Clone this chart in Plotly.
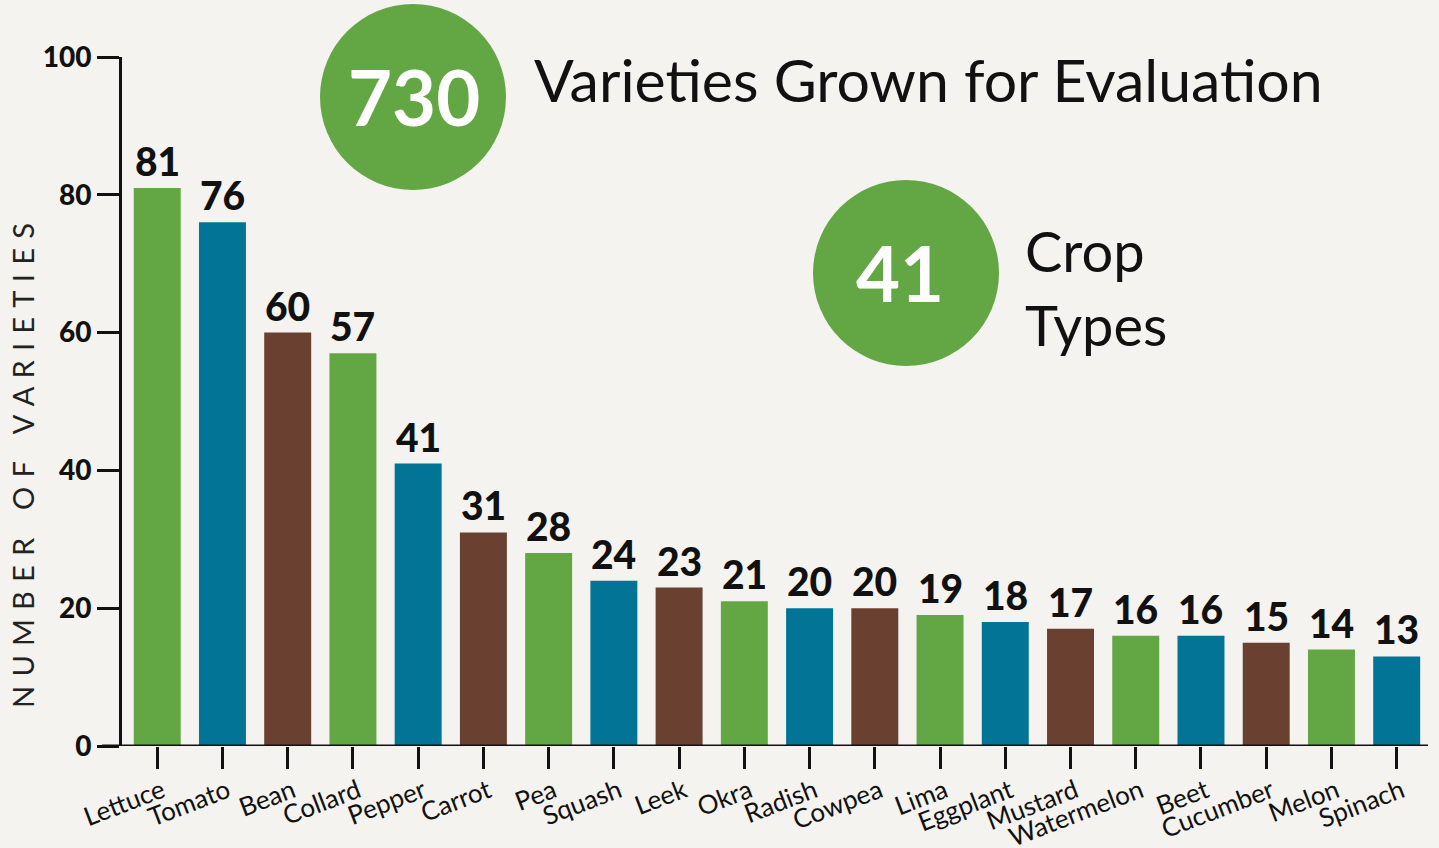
import plotly.graph_objects as go

crops = ["Lettuce", "Tomato", "Bean", "Collard", "Pepper", "Carrot", "Pea", "Squash",
         "Leek", "Okra", "Radish", "Cowpea", "Lima", "Eggplant", "Mustard",
         "Watermelon", "Beet", "Cucumber", "Melon", "Spinach"]
varieties = [81, 76, 60, 57, 41, 31, 28, 24, 23, 21, 20, 20, 19, 18, 17, 16, 16, 15, 14, 13]
palette = ["#63a745", "#027597", "#6a4131"]
y_ticks = [0, 20, 40, 60, 80, 100]
total_varieties = "730"
crop_types = "41"

BG = "#f4f3ef"
FONT = "Lato"
W, H = 1439, 848
L, R, T, B = 122, 11, 57, 102
pw, ph = W - L - R, H - T - B

def px_x(x):
    return (x - L) / pw

def px_y(y):
    return (H - B - y) / ph

colors = [palette[i % 3] for i in range(len(crops))]

fig = go.Figure()
fig.add_trace(go.Bar(x=crops, y=varieties, marker=dict(color=colors, line=dict(width=0)),
                     hoverinfo="x+y"))

annotations = []
for c, v in zip(crops, varieties):
    annotations.append(dict(x=c, y=v, xref="x", yref="y", text=str(v), showarrow=False,
                            yanchor="bottom", yshift=2,
                            font=dict(family=FONT, size=39, color="#111111", weight=900)))

sp = "\u00a0\u200a"
title_txt = (sp * 3).join(sp.join(list(w)) for w in ["NUMBER", "OF", "VARIETIES"])
annotations.append(dict(x=px_x(22), y=px_y(466), xref="paper", yref="paper", text=title_txt,
                        textangle=-90, showarrow=False, xanchor="center", yanchor="middle",
                        font=dict(family=FONT, size=29, color="#222222")))

annotations += [
    dict(x=px_x(414), y=px_y(97), xref="paper", yref="paper", text=total_varieties, showarrow=False,
         xanchor="center", yanchor="middle", font=dict(family=FONT, size=76, color="white", weight=700)),
    dict(x=px_x(532), y=px_y(79), xref="paper", yref="paper", text="Varieties Grown for Evaluation",
         showarrow=False, xanchor="left", yanchor="middle",
         font=dict(family=FONT, size=59, color="#111111")),
    dict(x=px_x(900), y=px_y(272), xref="paper", yref="paper", text=crop_types, showarrow=False,
         xanchor="center", yanchor="middle", font=dict(family=FONT, size=76, color="white", weight=700)),
    dict(x=px_x(1023), y=px_y(250), xref="paper", yref="paper", text="Crop", showarrow=False,
         xanchor="left", yanchor="middle", font=dict(family=FONT, size=56, color="#111111")),
    dict(x=px_x(1023), y=px_y(324), xref="paper", yref="paper", text="Types", showarrow=False,
         xanchor="left", yanchor="middle", font=dict(family=FONT, size=56, color="#111111")),
]

shapes = [
    dict(type="circle", xref="paper", yref="paper", xsizemode="pixel", ysizemode="pixel",
         xanchor=px_x(413), yanchor=px_y(97), x0=-93, x1=93, y0=-93, y1=93,
         fillcolor="#63a745", line=dict(width=0), layer="below"),
    dict(type="circle", xref="paper", yref="paper", xsizemode="pixel", ysizemode="pixel",
         xanchor=px_x(906), yanchor=px_y(273), x0=-93, x1=93, y0=-93, y1=93,
         fillcolor="#63a745", line=dict(width=0), layer="below"),
    dict(type="line", xref="paper", yref="y", x0=px_x(102), x1=1, y0=0, y1=0,
         line=dict(color="#111111", width=3)),
]

fig.update_layout(
    width=W, height=H, margin=dict(l=L, r=R, t=T, b=B, pad=0, autoexpand=False),
    paper_bgcolor=BG, plot_bgcolor=BG, showlegend=False, bargap=0.28,
    annotations=annotations, shapes=shapes,
    xaxis=dict(range=[-0.54, 19.48], showgrid=False, zeroline=False, showline=False,
               automargin=False,
               ticks="outside", ticklen=22, tickwidth=2.5, tickcolor="#111111",
               tickangle=-21, ticklabelstandoff=-3, ticklabelshift=5,
               tickfont=dict(family=FONT, size=26, color="#111111")),
    yaxis=dict(range=[0, 100], tickvals=y_ticks, showgrid=False, zeroline=False,
               automargin=False,
               showline=True, linewidth=3, linecolor="#111111",
               ticks="outside", ticklen=22, tickwidth=2.5, tickcolor="#111111",
               tickfont=dict(family=FONT, size=28, color="#111111", weight=900)),
)

fig.write_html("out.html", config={"displayModeBar": False},
               post_script="document.body.style.margin='0px';document.body.style.overflow='hidden';")
